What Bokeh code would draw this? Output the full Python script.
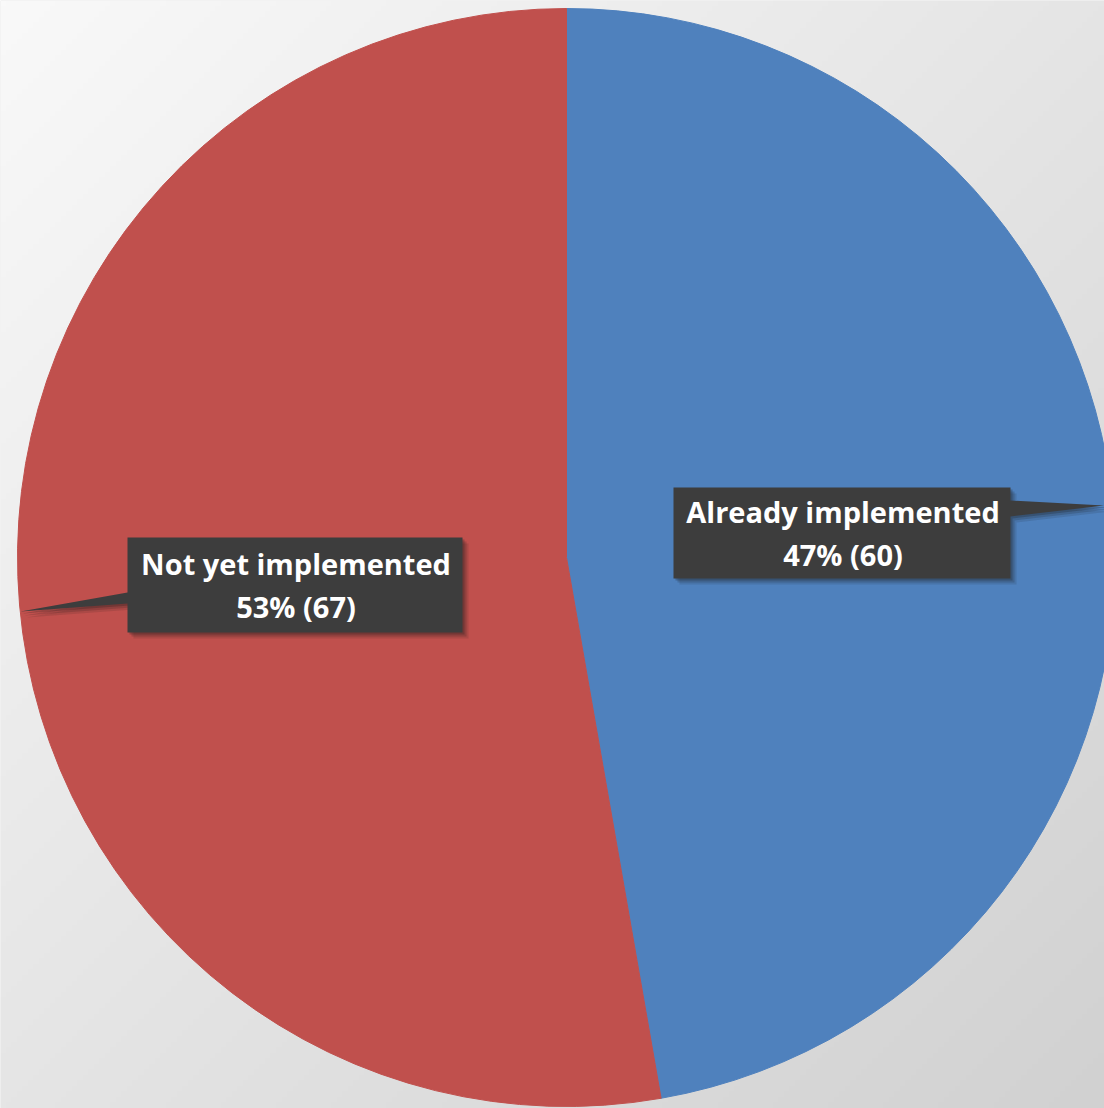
import numpy as np
from bokeh.plotting import figure
from bokeh.models import ColumnDataSource, Range1d
from bokeh.core.properties import value
from bokeh.embed import file_html
from bokeh.resources import INLINE

# ---- data ----
categories = ["Already implemented", "Not yet implemented"]
counts = [60, 67]
colors = ["#4F81BD", "#C0504D"]

W, H = 1104, 1108
p = figure(width=W, height=H, output_backend="svg", toolbar_location=None,
           x_range=Range1d(0, W), y_range=Range1d(0, H), min_border=0)
p.axis.visible = False
p.grid.visible = False
p.outline_line_color = None
p.background_fill_color = "#e6e6e6"
p.border_fill_color = "#e6e6e6"

# background gradient (style only)
gx, gy = np.meshgrid(np.linspace(0, 1, 200), np.linspace(0, 1, 200))
t = (gx + (1 - gy)) / 2.0
lvl = (249 - 40 * t).astype(np.uint32)
img = np.empty((200, 200), dtype=np.uint32)
view = img.view(dtype=np.uint8).reshape((200, 200, 4))
view[:, :, 0] = lvl
view[:, :, 1] = lvl
view[:, :, 2] = lvl
view[:, :, 3] = 255
p.image_rgba(image=[img], x=0, y=0, dw=W, dh=H)

# pie geometry
cx, cy, r = 566, H - 557, 549
total = sum(counts)
fr = [c / total for c in counts]
ends = []
starts = []
a = np.pi / 2
for f in fr:
    starts.append(a)
    a = a - 2 * np.pi * f
    ends.append(a)
src = ColumnDataSource(dict(start=starts, end=ends, color=colors))
p.wedge(x=cx, y=cy, radius=r, start_angle="start", end_angle="end",
        direction="clock", fill_color="color", line_color="color", line_width=1,
        source=src)

# callouts
pct = [round(100 * f) for f in fr]
labels = [f"{c}\n{q}% ({v})" for c, q, v in zip(categories, pct, counts)]

def Y(v):
    return H - v

boxes = [
    dict(x0=673, x1=1010, y0=487, y1=578, py0=500, py1=516, tx=1104, ty=505, side="right"),
    dict(x0=127, x1=462, y0=537, y1=632, py0=592, py1=603, tx=20, ty=611, side="left"),
]
for b in boxes:
    if b["side"] == "right":
        xs = [b["x0"], b["x1"], b["x1"], b["tx"], b["x1"], b["x1"], b["x0"]]
        ys = [b["y0"], b["y0"], b["py0"], b["ty"], b["py1"], b["y1"], b["y1"]]
    else:
        xs = [b["x0"], b["x1"], b["x1"], b["x0"], b["x0"], b["tx"], b["x0"]]
        ys = [b["y0"], b["y0"], b["y1"], b["y1"], b["py1"], b["ty"], b["py0"]]
    for k, al in ((6, 0.12), (4, 0.18), (2, 0.25)):
        p.patch([x + k for x in xs], [Y(y + k) for y in ys], fill_color="#1a1a1a",
                fill_alpha=al, line_color=None)
    p.patch(xs, [Y(y) for y in ys], fill_color="#3d3d3d", line_color=None)

lx = [(b["x0"] + b["x1"]) / 2 + 1 for b in boxes]
ly = [Y((b["y0"] + b["y1"]) / 2) for b in boxes]
p.text(x=lx, y=ly, text=labels, text_color="white", text_font=value("Open Sans"),
       text_font_style="bold", text_font_size="29px", text_align="center",
       text_baseline="middle", text_line_height=1.1)

open("out.html", "w").write(file_html(p, INLINE))
